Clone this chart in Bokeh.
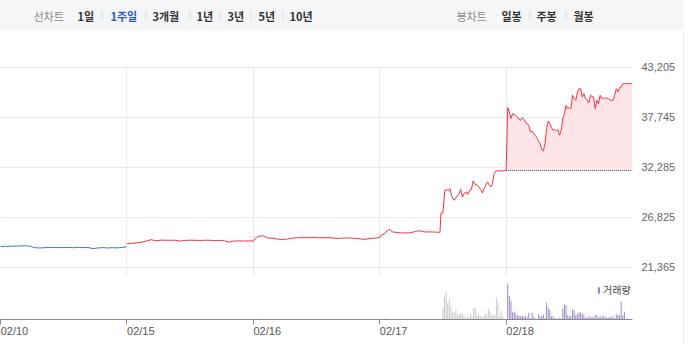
from bokeh.plotting import figure
from bokeh.models import (Range1d, FixedTicker, NumeralTickFormatter, Grid, Legend, LegendItem,
                          LinearAxis, CustomJSTickFormatter)
from bokeh.layouts import column, row
from bokeh.embed import file_html
from bokeh.resources import INLINE
from bokeh.core.properties import value

# ---------------- data ----------------
day_labels = ["02/10", "02/15", "02/16", "02/17", "02/18"]
minutes_per_day = 390
price_ticks = [21365, 26825, 32285, 37745, 43205]

line_tabs = ["1일", "1주일", "3개월", "1년", "3년", "5년", "10년"]
candle_tabs = ["일봉", "주봉", "월봉"]
line_title = "선차트"
candle_title = "봉차트"
active_tab = "1주일"
volume_label = "거래량"

min_15 = list(range(0, 391, 15))
px_0210 = [23600, 23625, 23625, 23650, 23660, 23690, 23640, 23480, 23440, 23470,
           23500, 23480, 23490, 23480, 23500, 23470, 23510, 23480, 23490, 23380,
           23440, 23480, 23440, 23480, 23450, 23500, 23580]
px_0215 = [23900, 23950, 24000, 24070, 24200, 24350, 24220, 24300, 24280, 24290,
           24280, 24200, 24270, 24290, 24280, 24260, 24290, 24280, 24250, 24270,
           24230, 24070, 24200, 24220, 24200, 24210, 24200]
px_0216 = [24250, 24700, 24780, 24530, 24500, 24420, 24360, 24420, 24520, 24560,
           24570, 24560, 24580, 24570, 24560, 24580, 24560, 24480, 24500, 24540,
           24520, 24500, 24440, 24380, 24480, 24520, 24580]
min_0217 = [0, 3, 15, 24, 32, 39, 50, 65, 80, 96,
            110, 116, 127, 137, 150, 163, 175, 186, 189, 195,
            201, 207, 212, 217, 222, 229, 237, 245, 250, 255,
            260, 268, 271, 278, 283, 288, 294, 302, 312, 317,
            322, 327, 333, 338, 343, 348, 353, 358, 370, 384, 390]
px_0217 = [24580, 24830, 25000, 25370, 25450, 25190, 25150, 25080, 25090, 25100,
           25250, 25300, 25300, 25190, 25200, 25190, 25170, 25150, 27260, 27270,
           29740, 29810, 29670, 29920, 29120, 28650, 29010, 29380, 29850, 29010,
           29380, 29560, 29270, 29740, 29810, 30760, 30400, 30290, 29810, 29450,
           29920, 30290, 30650, 30290, 30100, 30470, 31560, 31850, 31860, 31870, 31900]
min_0218 = list(range(0, 391, 5))
px_0218 = [31900, 38770, 38290, 37570, 38110, 38040, 37900, 37750, 37500, 37390,
           37680, 37500, 37200, 36950, 36840, 36110, 36220, 35930, 35750, 35490,
           35100, 34840, 34180, 34040, 34840, 36480, 37310, 37020, 36580, 36290,
           36400, 36220, 36370, 35750, 36290, 37570, 38110, 39020, 38660, 38770,
           38660, 40120, 39750, 39570, 40480, 40840, 40840, 39930, 40300, 39750,
           39640, 39280, 40120, 40000, 39930, 38660, 39570, 39200, 40120, 39750,
           39860, 39750, 39860, 39750, 39640, 39570, 39570, 40120, 40840, 40480,
           40950, 41020, 41390, 41390, 41390, 41390, 41390, 41390, 41390]

vol_min_0216 = [12]
vol_0216 = [10]
vol_min_0217 = [15, 20, 25] + list(range(195, 381, 5))
vol_0217 = [10, 10, 10,
            117, 243, 277, 167, 207, 127, 80, 67, 100, 43,
            53, 57, 67, 33, 17, 27, 17, 57, 33, 117,
            110, 33, 47, 37, 33, 23, 60, 40, 110, 83,
            33, 50, 47, 210, 167, 33, 90, 33]
vol_min_0218 = list(range(5, 371, 5))
vol_0218 = [360, 237, 187, 70, 80, 57, 37, 37, 33, 37,
            27, 37, 23, 67, 10, 67, 27, 10, 5, 50,
            27, 37, 50, 17, 167, 117, 93, 33, 33, 13,
            10, 7, 17, 10, 110, 153, 143, 43, 33, 37,
            103, 87, 43, 53, 70, 70, 60, 50, 17, 20,
            33, 23, 27, 17, 43, 43, 20, 33, 23, 37,
            27, 20, 17, 27, 20, 33, 13, 53, 43, 40,
            177, 40, 77, 7]

# ---------------- helpers ----------------
def to_x(day_idx, minutes):
    return [day_idx * minutes_per_day + m for m in minutes]

day_ticks = [i * minutes_per_day for i in range(len(day_labels))]
x_end = len(day_labels) * minutes_per_day
prev_close = px_0217[-1]

FONT_KR = value("Noto Sans CJK KR")
FONT_NUM = "Liberation Sans"

TOTAL_W = 684
INNER_W = 683
AXIS_W = 51           # frame width 632 like the reference
MAIN_TOP = 35
MAIN_FRAME_H = 210
VOL_FRAME_H = 42
VOL_BOTTOM = 25
price_per_px = (price_ticks[-1] - price_ticks[0]) / 200.0
# left-aligned date labels: anchor shifted by half a label width (in minutes)
label_shift = 43


def bare(fig):
    fig.center = [c for c in fig.center if not isinstance(c, Grid)]
    return fig


def solid(w, h, color):
    f = figure(width=w, height=h, x_range=Range1d(0, 1), y_range=Range1d(0, 1),
               min_border=0, toolbar_location=None, output_backend="svg",
               x_axis_location=None, y_axis_location=None, outline_line_color=None,
               background_fill_color=color, border_fill_color=color)
    return bare(f)

# ---------------- top tab bar ----------------
BAR_BG = "#f5f6f8"
top = figure(width=TOTAL_W, height=30, x_range=Range1d(0, TOTAL_W), y_range=Range1d(0, 30),
             min_border=0, toolbar_location=None, output_backend="svg",
             x_axis_location=None, y_axis_location=None, outline_line_color=None,
             background_fill_color=BAR_BG, border_fill_color=BAR_BG)
bare(top)

title_x = [33, 456]
line_tab_x = [77, 110, 152, 196, 227, 258, 289]
candle_tab_x = [501, 536, 573]
sep_x = [101.5, 145.5, 189.5, 219.5, 250.5, 282.5, 529.5, 565.5]
text_y = 15

top.text(x=title_x, y=[text_y] * 2, text=[line_title, candle_title],
         text_font=FONT_KR, text_font_size="11px", text_color="#8a8a8a",
         text_baseline="middle", text_align="left")
tab_labels = line_tabs + candle_tabs
tab_colors = ["#2b59c3" if t == active_tab else "#333333" for t in tab_labels]
top.text(x=line_tab_x + candle_tab_x, y=[text_y] * len(tab_labels), text=tab_labels,
         text_font=FONT_KR, text_font_size="11px", text_font_style="bold",
         text_color=tab_colors, text_baseline="middle", text_align="left")
top.segment(x0=sep_x, y0=[10] * len(sep_x), x1=sep_x, y1=[20] * len(sep_x),
            line_color="#dcdcdc", line_width=1)

top_line = solid(TOTAL_W, 1, "#cccccc")

# ---------------- main price chart ----------------
y_hi = price_ticks[-1] + 0.5 * price_per_px
y_lo = y_hi - MAIN_FRAME_H * price_per_px
p = figure(width=INNER_W, height=MAIN_TOP + MAIN_FRAME_H, x_range=Range1d(0, x_end),
           y_range=Range1d(y_lo, y_hi),
           min_border_left=0, min_border_right=AXIS_W, min_border_top=MAIN_TOP,
           min_border_bottom=0,
           toolbar_location=None, output_backend="svg", outline_line_color=None,
           x_axis_location=None, y_axis_location="right",
           background_fill_color="white", border_fill_color="white")
bare(p)
p.add_layout(Grid(dimension=1, ticker=FixedTicker(ticks=price_ticks),
                  grid_line_color="#ebebeb", grid_line_width=1))
p.add_layout(Grid(dimension=0, ticker=FixedTicker(ticks=day_ticks[1:]),
                  grid_line_color="#ebebeb", grid_line_width=1))

ya = p.yaxis[0]
ya.ticker = FixedTicker(ticks=price_ticks)
ya.formatter = NumeralTickFormatter(format="0,0")
ya.axis_line_color = None
ya.major_tick_line_color = None
ya.minor_tick_line_color = None
ya.major_tick_out = 0
ya.major_label_standoff = 9
ya.major_label_text_font = FONT_NUM
ya.major_label_text_font_size = "11px"
ya.major_label_text_color = "#666666"

x18 = to_x(4, min_0218)
p.varea(x=x18, y1=[prev_close] * len(x18), y2=px_0218, fill_color="#fde4e6", fill_alpha=1)
p.line(x=[x18[0], x18[-1]], y=[prev_close, prev_close], line_color="#555555",
       line_width=1, line_dash="1 1")

p.line(x=to_x(0, min_15), y=px_0210, line_color="#3a78d8", line_width=1)
red_x = to_x(1, min_15) + to_x(2, min_15) + to_x(3, min_0217) + x18
red_y = px_0215 + px_0216 + px_0217 + px_0218
p.line(x=red_x, y=red_y, line_color="#f5333f", line_width=1)

mid_line = solid(INNER_W, 1, "#9a9a9a")

# ---------------- volume chart with date axis ----------------
v = figure(width=INNER_W, height=VOL_FRAME_H + VOL_BOTTOM,
           x_range=Range1d(0, x_end), y_range=Range1d(0, 420),
           min_border_left=0, min_border_right=AXIS_W, min_border_top=0,
           min_border_bottom=VOL_BOTTOM,
           toolbar_location=None, output_backend="svg", outline_line_color=None,
           x_axis_location=None, y_axis_location=None,
           background_fill_color="white", border_fill_color="white")
bare(v)

bar_w = 3
v.vbar(x=to_x(2, vol_min_0216) + to_x(3, vol_min_0217), top=vol_0216 + vol_0217,
       width=bar_w, fill_color="#c6c8cc", line_color=None)
vr = v.vbar(x=to_x(4, vol_min_0218), top=vol_0218, width=bar_w,
            fill_color="#9b87c9", line_color=None)

legend = Legend(items=[LegendItem(label=volume_label, renderers=[vr])],
                location=(597, 22), orientation="vertical",
                glyph_width=3, glyph_height=8, label_standoff=3, label_height=12,
                padding=0, margin=0, spacing=0,
                border_line_color=None, background_fill_alpha=0,
                label_text_font="Noto Sans CJK KR", label_text_font_size="10px",
                label_text_color="#444444")
v.add_layout(legend)

tick_axis = LinearAxis(ticker=FixedTicker(ticks=day_ticks),
                       formatter=CustomJSTickFormatter(code="return ''"),
                       axis_line_color="#8a8a8a", major_tick_line_color="#8a8a8a",
                       major_tick_out=5, major_tick_in=0, minor_tick_line_color=None,
                       major_label_standoff=0, major_label_text_font_size="1px")
label_axis = LinearAxis(ticker=FixedTicker(ticks=[d + label_shift for d in day_ticks]),
                        major_label_overrides={d + label_shift: lab
                                               for d, lab in zip(day_ticks, day_labels)},
                        axis_line_color=None, major_tick_line_color=None,
                        minor_tick_line_color=None, major_tick_out=0, major_tick_in=0,
                        major_label_standoff=0,
                        major_label_text_font=FONT_NUM, major_label_text_font_size="11px",
                        major_label_text_color="#555555")
v.add_layout(tick_axis, "below")
v.add_layout(label_axis, "below")

right_border = solid(1, MAIN_TOP + MAIN_FRAME_H + 1 + VOL_FRAME_H + VOL_BOTTOM, "#d0d0d0")
bottom_bar = solid(TOTAL_W, 2, "#555555")

layout = column(top, top_line,
                row(column(p, mid_line, v), right_border),
                bottom_bar)

open("out.html", "w").write(file_html(layout, INLINE))
